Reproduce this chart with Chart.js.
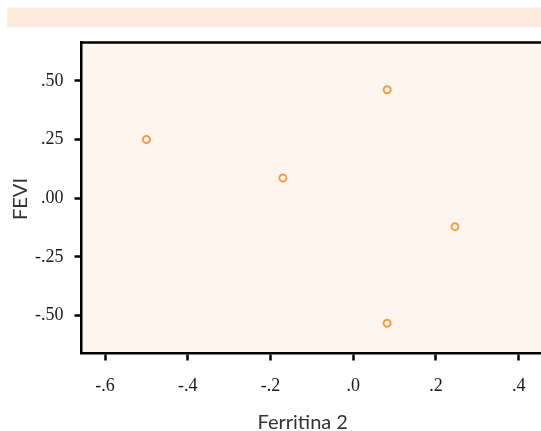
<!DOCTYPE html>
<html>
<head>
<meta charset="utf-8">
<script src="https://cdn.jsdelivr.net/npm/chart.js@4.4.1/dist/chart.umd.min.js"></script>
<style>
  html, body { margin: 0; padding: 0; background: #ffffff; }
  #wrap { width: 541px; height: 431px; position: relative; }
</style>
</head>
<body>
<div id="wrap"><canvas id="c" width="541" height="431"></canvas></div>
<script>
// ---- data ----
const xValues = [-0.50, -0.17, 0.082, 0.246, 0.082];
const yValues = [0.25, 0.086, 0.462, -0.121, -0.532];
const xTicks = [-0.6, -0.4, -0.2, 0, 0.2, 0.4];
const xTickLabels = ['-.6', '-.4', '-.2', '.0', '.2', '.4'];
const yTicks = [-0.5, -0.25, 0, 0.25, 0.5];
const yTickLabels = ['-.50', '-.25', '.00', '.25', '.50'];
const xTitle = 'Ferritina 2';
const yTitle = 'FEVI';

const points = xValues.map((x, i) => ({ x: x, y: yValues[i] }));

const BAND = '#fdebdc';
const PLOT_BG = '#fef5ef';
const POINT = '#f79b45';
const TITLE_FONT = '20px Lato';
const TICK_FONT = { family: 'Liberation Serif', size: 18 };

// the plot area runs to the canvas's right edge: no extra room for point overflow
Chart.registry.getController('scatter').prototype.getMaxOverflow = function () { return 0; };

const decor = {
  id: 'decor',
  beforeDraw(chart) {
    const ctx = chart.ctx, a = chart.chartArea;
    ctx.save();
    ctx.fillStyle = BAND;
    ctx.fillRect(7, 7.5, chart.width - 7, 19.5);
    ctx.fillStyle = PLOT_BG;
    ctx.fillRect(a.left, a.top, a.right - a.left, a.bottom - a.top);
    ctx.restore();
  },
  afterDraw(chart) {
    const ctx = chart.ctx, a = chart.chartArea;
    ctx.save();
    ctx.strokeStyle = '#000';
    ctx.lineWidth = 2.5;
    ctx.beginPath();
    ctx.moveTo(a.left - 1.25, a.top);
    ctx.lineTo(a.right, a.top);
    ctx.stroke();
    ctx.fillStyle = '#333';
    ctx.font = TITLE_FONT;
    ctx.textAlign = 'center';
    ctx.textBaseline = 'alphabetic';
    ctx.fillText(xTitle, 302.7, 428.5);
    ctx.translate(26.5, 199);
    ctx.rotate(-Math.PI / 2);
    ctx.fillText(yTitle, 0, 0);
    ctx.restore();
  }
};

new Chart(document.getElementById('c'), {
  type: 'scatter',
  data: {
    datasets: [{
      data: points,
      pointStyle: 'circle',
      pointRadius: 3.5,
      pointHoverRadius: 3.5,
      pointBorderWidth: 2,
      borderColor: POINT,
      backgroundColor: 'rgba(0,0,0,0)'
    }]
  },
  options: {
    responsive: false,
    animation: false,
    layout: { padding: { top: 42.5, left: 0, right: 0, bottom: 0 } },
    plugins: { legend: { display: false }, tooltip: { enabled: false } },
    scales: {
      x: {
        type: 'linear',
        min: -0.657,
        max: 0.454,
        afterFit(scale) { scale.height = 77.5; scale.paddingLeft = 0; scale.paddingRight = 0; },
        afterBuildTicks(scale) { scale.ticks = xTicks.map(v => ({ value: v })); },
        grid: { drawOnChartArea: false, drawTicks: true, tickLength: 7, tickWidth: 2.5, tickColor: '#000' },
        border: { display: true, color: '#000', width: 2.5 },
        ticks: {
          padding: 15,
          color: '#1a1a1a',
          font: TICK_FONT,
          maxRotation: 0,
          autoSkip: false,
          callback: (v, i) => xTickLabels[i]
        }
      },
      y: {
        type: 'linear',
        min: -0.661,
        max: 0.663,
        afterFit(scale) { scale.width = 81.5; scale.paddingTop = 0; scale.paddingBottom = 0; },
        afterBuildTicks(scale) { scale.ticks = yTicks.map(v => ({ value: v })); },
        grid: { drawOnChartArea: false, drawTicks: true, tickLength: 7, tickWidth: 2.5, tickColor: '#000' },
        border: { display: true, color: '#000', width: 2.5 },
        ticks: {
          padding: 11,
          color: '#1a1a1a',
          font: TICK_FONT,
          autoSkip: false,
          callback: (v, i) => yTickLabels[i]
        }
      }
    }
  },
  plugins: [decor]
});
</script>
</body>
</html>
